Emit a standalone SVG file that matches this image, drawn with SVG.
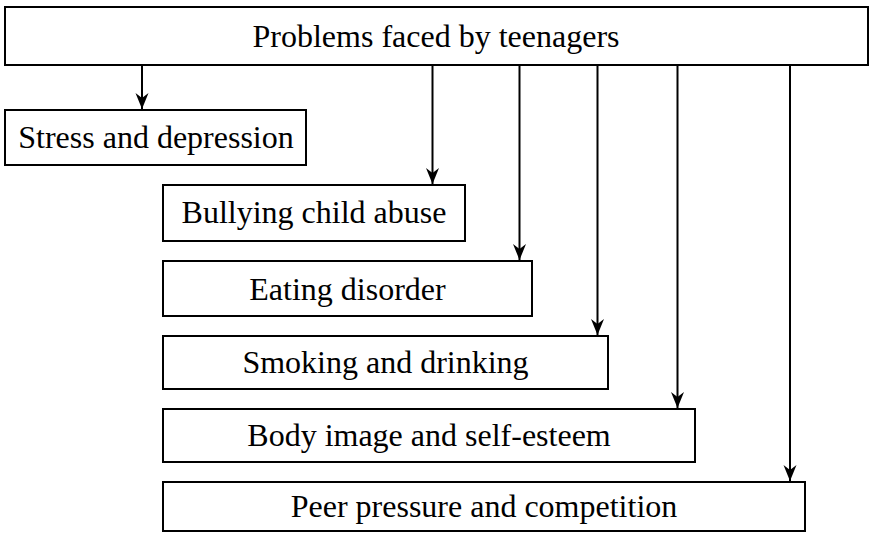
<svg xmlns="http://www.w3.org/2000/svg" width="871" height="533" viewBox="0 0 871 533">
<style>
.box{fill:#fff;stroke:#000;stroke-width:2}
.lbl{font-family:"Liberation Serif","Times New Roman",serif;font-size:32px;fill:#000;text-anchor:middle}
.conn{stroke:#000;stroke-width:2;fill:none;marker-end:url(#ah)}
</style>
<defs>
<marker id="ah" markerUnits="userSpaceOnUse" viewBox="-17 -7 18 14" refX="0" refY="0" markerWidth="18" markerHeight="14" orient="auto">
<path d="M0,0 L-16,-6.5 L-11,0 L-16,6.5 Z" fill="#000"/>
</marker>
</defs>
<rect width="871" height="533" fill="#fff"/>
<g id="connectors">
<line class="conn" x1="142" y1="65" x2="142" y2="109"/>
<line class="conn" x1="432.5" y1="65" x2="432.5" y2="184"/>
<line class="conn" x1="519.5" y1="65" x2="519.5" y2="260"/>
<line class="conn" x1="597.5" y1="65" x2="597.5" y2="335"/>
<line class="conn" x1="677.5" y1="65" x2="677.5" y2="408"/>
<line class="conn" x1="790" y1="65" x2="790" y2="481"/>
</g>
<g id="root">
<rect class="box" x="5" y="7" width="863" height="58"/>
<text class="lbl" x="436" y="47">Problems faced by teenagers</text>
</g>
<g id="stress">
<rect class="box" x="5" y="110" width="301" height="55"/>
<text class="lbl" x="156" y="148">Stress and depression</text>
</g>
<g id="bullying">
<rect class="box" x="163" y="185" width="302" height="56"/>
<text class="lbl" x="314" y="223">Bullying child abuse</text>
</g>
<g id="eating">
<rect class="box" x="163" y="261" width="369" height="55"/>
<text class="lbl" x="347.5" y="300">Eating disorder</text>
</g>
<g id="smoking">
<rect class="box" x="163" y="336" width="445" height="53"/>
<text class="lbl" x="385.5" y="373">Smoking and drinking</text>
</g>
<g id="body">
<rect class="box" x="163" y="409" width="532" height="53"/>
<text class="lbl" x="429" y="446">Body image and self-esteem</text>
</g>
<g id="peer">
<rect class="box" x="163" y="482" width="642" height="49"/>
<text class="lbl" x="484" y="517">Peer pressure and competition</text>
</g>
</svg>
